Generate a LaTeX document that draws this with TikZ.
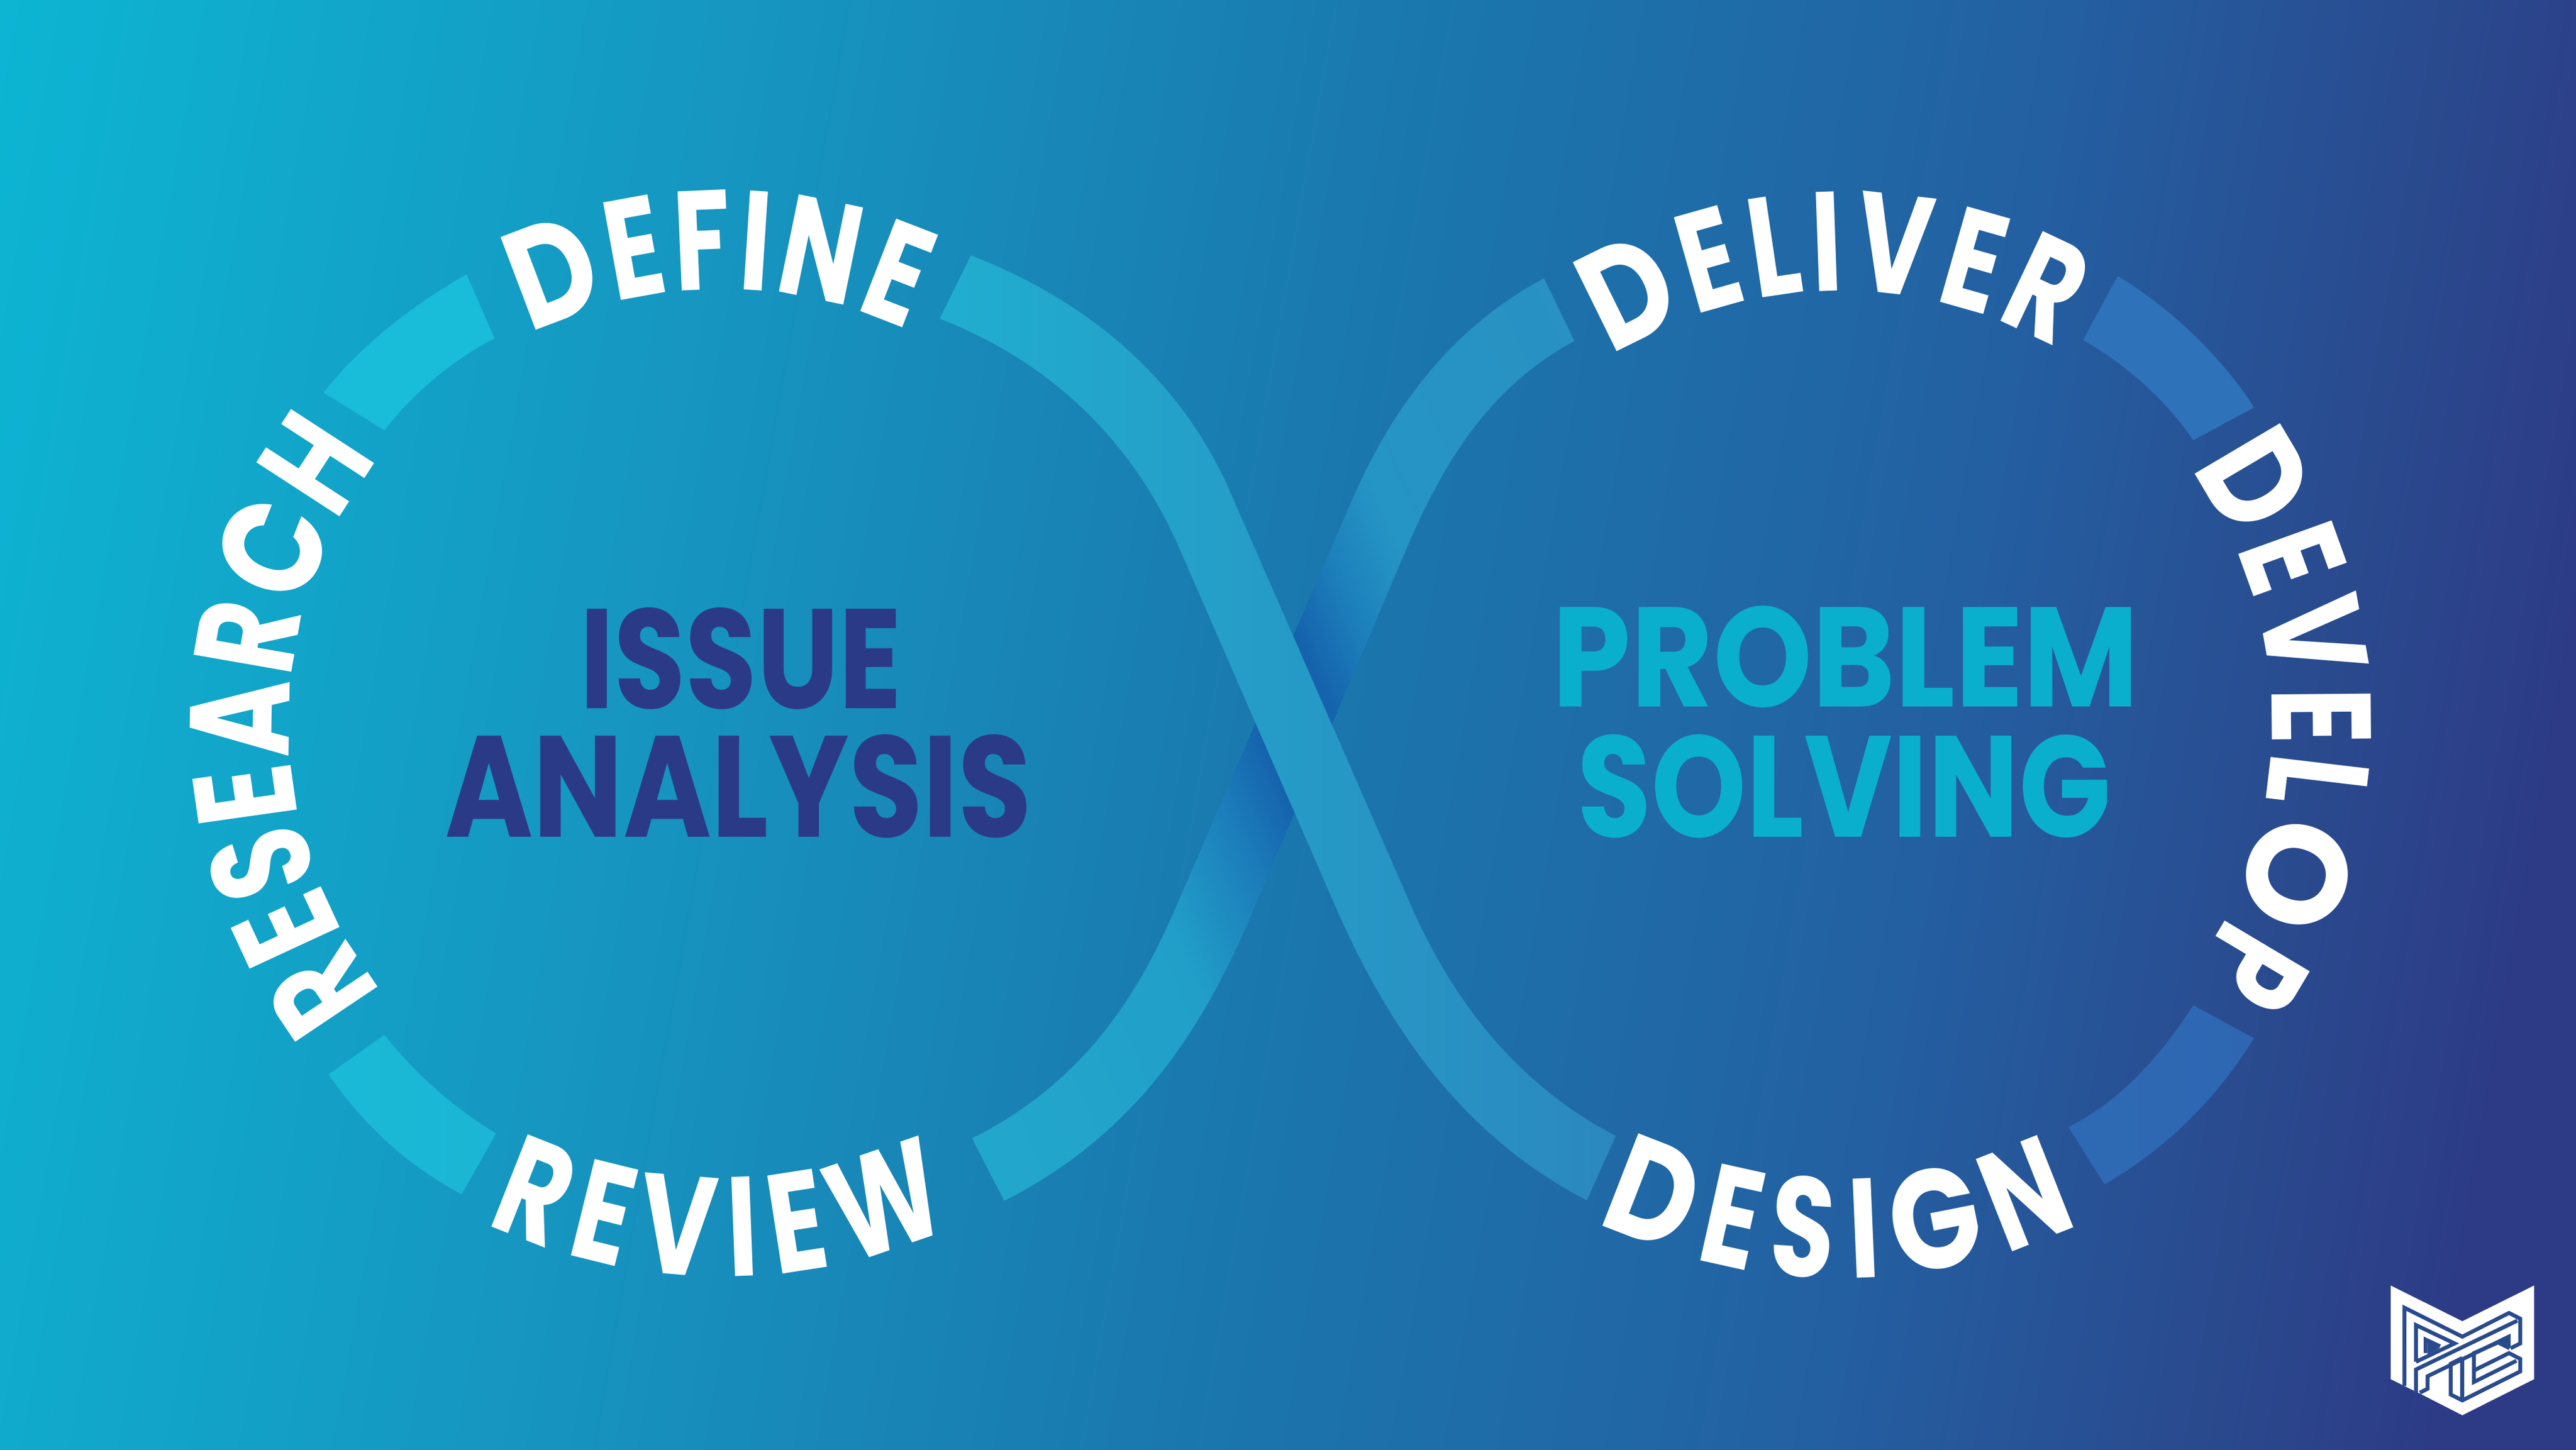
\documentclass[tikz,border=0pt]{standalone}
\usepackage{fontspec}
\usetikzlibrary{decorations.text}
\setmainfont{Poppins}
\newfontfamily\ringbase[FakeStretch=0.74]{Poppins}
\newfontfamily\ringmid[FakeStretch=0.84]{Poppins}
\newfontfamily\ringbig[FakeStretch=0.98]{Poppins}
\newcommand\ringfont{\ringbase\bfseries\fontsize{64.5}{70}\selectfont\color{white}}
\newcommand\ringd{\ringmid\bfseries\fontsize{64.5}{70}\selectfont\color{white}}
\newcommand\ringo{\ringbig\bfseries\fontsize{64.5}{70}\selectfont\color{white}}
\definecolor{bga}{HTML}{0DB5D3}
\definecolor{bgb}{HTML}{1695C0}
\definecolor{bgc}{HTML}{1A78AE}
\definecolor{bgd}{HTML}{2360A2}
\definecolor{bge}{HTML}{2A4A8E}
\definecolor{bgf}{HTML}{2D3A86}
\definecolor{navytxt}{HTML}{2B3A87}
\definecolor{cyantxt}{HTML}{0BAFCE}
\definecolor{arctl}{HTML}{19BCD9}
\definecolor{arcbla}{HTML}{1ABAD7}
\definecolor{arcblb}{HTML}{1CB5D5}
\definecolor{arctr}{HTML}{2E72BA}
\definecolor{arcbra}{HTML}{2E6AB4}
\definecolor{arcbrb}{HTML}{2E66B2}
\definecolor{bandonea}{HTML}{20AECF}
\definecolor{bandoneb}{HTML}{2B88BF}
\pgfdeclarehorizontalshading{bgshade}{100bp}{color(0bp)=(bga);color(25bp)=(bga);color(38.6bp)=(bgb);color(50bp)=(bgc);color(61.4bp)=(bgd);color(68.2bp)=(bge);color(72.7bp)=(bgf);color(100bp)=(bgf)}
\definecolor{bta}{HTML}{22A8CC}
\definecolor{btb}{HTML}{219FC9}
\definecolor{btc}{HTML}{1C7DBA}
\definecolor{btd}{HTML}{1563AD}
\definecolor{bte}{HTML}{1D80BB}
\definecolor{btf}{HTML}{2595C5}
\definecolor{btg}{HTML}{2A8FC2}
\pgfdeclarehorizontalshading{bandtwoshade}{100bp}{color(0bp)=(bta);color(25bp)=(bta);color(40bp)=(btb);color(45bp)=(btc);color(48.08bp)=(btd);color(51.92bp)=(btd);color(55bp)=(bte);color(58.33bp)=(btf);color(75bp)=(btg);color(100bp)=(btg)}
\newcommand\fitword[3]{\resizebox*{#1\dimexpr0.75pt\relax}{#2\dimexpr0.75pt\relax}{\bfseries #3}}
\newcommand\ringarc[6]{\path[decorate,decoration={text along path,text align={fit to path},text={#6}}] plot[domain=#4:#5,samples=60]({#1+#3*cos(\x)},{#2+#3*sin(\x)});}
\newcommand\bandtwopath{(939.8,169.4) .. controls (884,199.5) and (848,246.8) .. (822.5,305.5) -- (716.8,549.9) .. controls (689.5,614.3) and (654,661.5) .. (591.7,693) -- (611.3,731) .. controls (686,693) and (728.7,634.6) .. (761.5,557.3) -- (857.2,331.4) .. controls (880,279) and (908,234.6) .. (958.3,207.6) -- cycle}
\tikzset{word/.style={inner sep=0pt,outer sep=0pt,anchor=center},logoline/.style={draw=bge,line width=1.76pt,line join=miter,fill=none}}
\begin{document}
\begin{tikzpicture}[x=0.75pt,y=-0.75pt]
\useasboundingbox (0,0) rectangle (1568,882.7);
\begin{scope}
\clip (0,0) rectangle (1568,882.7);
\shade[shading=bgshade,transform canvas={rotate around={-10:(784,441)}}] (-65,-500) rectangle (1633,1400);
\end{scope}
% short arcs
\fill[arctl] (197,239) .. controls (218,212) and (249,187) .. (284,167) -- (301,206) .. controls (274,220) and (251,240) .. (234,262) -- cycle;
\shade[left color=arcbla,right color=arcblb] (200,654) .. controls (222,686) and (249,710) .. (281,727) -- (302,690) .. controls (277,675) and (254,655) .. (234,630) -- cycle;
\fill[arctr] (1289,168) .. controls (1322,188) and (1352,217) .. (1372,248) -- (1335,268) .. controls (1318,243) and (1294,222) .. (1268,207) -- cycle;
\shade[left color=arcbra,right color=arcbrb] (1372,632) .. controls (1349,669) and (1319,699) .. (1281,721) -- (1259,686) .. controls (1290,671) and (1315,643) .. (1335,612) -- cycle;
% band two (under)
\begin{scope}
\clip \bandtwopath;
\shade[shading=bandtwoshade,transform canvas={rotate around={23.5:(788,438)}}] (488,-62) rectangle (1088,938);
\end{scope}
% band one (over)
\shade[left color=bandonea,right color=bandoneb] (591,155.5) .. controls (661.7,182.9) and (718.8,230.3) .. (749,300) -- (858.3,550) .. controls (884.6,610.5) and (924.8,661.1) .. (983.5,691.5) -- (965.9,730.7) .. controls (891,692) and (845.5,627) .. (812.1,550) -- (718,334) .. controls (689.3,268) and (639,220) .. (572,194) -- cycle;
% centre words
\node[word,text=navytxt] (issue) at (451,401) {\fitword{196}{62}{ISSUE}};
\node[word,text=navytxt] (analysis) at (449.5,478.5) {\fitword{357}{63}{ANALYSIS}};
\node[word,text=cyantxt] (problem) at (1123.5,400) {\fitword{357}{62}{PROBLEM}};
\node[word,text=cyantxt] (solving) at (1122.5,478.5) {\fitword{325}{63}{SOLVING}};
% ring words
\ringarc{440}{440}{264}{141.7}{217.5}{|\ringfont|RESEAR|\ringd|C|\ringfont|H}
\ringarc{440}{440}{264}{243.6}{295.1}{|\ringd|D|\ringfont|EFINE}
\ringarc{440}{440}{337}{115.3}{65.5}{|\ringfont|REVIEW}
\ringarc{1120}{440}{263}{238}{300}{|\ringd|D|\ringfont|ELIVER}
\ringarc{1120}{440}{263}{-36}{35}{|\ringd|D|\ringfont|EVEL|\ringo|O|\ringfont|P}
\ringarc{1120}{440}{338}{116}{64.5}{|\ringd|D|\ringfont|ESI|\ringd|G|\ringfont|N}
% logo
\begin{scope}[shift={(1427.7,757.9)},x=0.08813pt,y=-0.08813pt]
\fill[white] (234,210) -- (605,395) -- (977,210) -- (977,695) -- (605,882) -- (390,772) -- (365,760) -- (234,695) -- cycle;
\draw[logoline] (305,730) -- (305,325) -- (605,475) -- (847,352) -- (905,382) -- (905,510) -- (855,535);
\draw[logoline] (365,765) -- (365,645) -- (890,392);
\draw[logoline] (845,525) -- (845,475) -- (425,680) -- (425,745) -- (385,765);
\draw[logoline] (365,605) -- (365,415) -- (565,510) -- (365,605);
\draw[logoline] (490,525) -- (415,490) -- (415,560);
\draw[logoline] (435,520) -- (465,535) -- (435,550) -- cycle;
\draw[logoline] (605,585) -- (545,615) -- (545,775) -- (605,805) -- (905,655) -- (905,590) -- (847,560) -- (665,650);
\draw[logoline] (605,585) -- (605,795);
\draw[logoline] (885,600) -- (665,710) -- (665,560) -- (790,505) -- (850,535);
\draw[logoline] (812,505) -- (835,493) -- (835,517) -- cycle;
\end{scope}
\end{tikzpicture}
\end{document}
